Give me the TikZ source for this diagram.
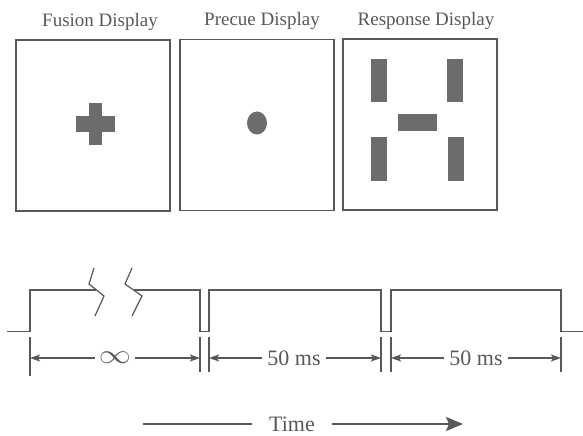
\documentclass[tikz,border=0pt]{standalone}
\usepackage{fontspec}
\setmainfont{Liberation Serif}
\usepackage{tikz}
\usetikzlibrary{arrows.meta}
\definecolor{pdfcolor1}{RGB}{88,88,88}
\definecolor{pdfcolor2}{RGB}{108,108,108}
\tikzset{
  display/.style={draw=pdfcolor1,line width=1.2bp,minimum width=154bp,minimum height=171bp},
  shade/.style={fill=pdfcolor2},
  wave/.style={draw=pdfcolor1,line width=1.2bp},
  tick/.style={draw=pdfcolor1,line width=1.1bp},
  dim/.style={draw=pdfcolor1,line width=1.1bp,-{Stealth[length=10bp,width=7bp,inset=2bp]}},
  timeline/.style={draw=pdfcolor1,line width=1.4bp},
  title/.style={anchor=base,text=pdfcolor1,font=\fontsize{19bp}{23bp}\selectfont},
  span/.style={text=pdfcolor1,inner xsep=5bp,font=\fontsize{22bp}{26bp}\selectfont}
}

\begin{document}
\begin{tikzpicture}[x=1bp,y=-1bp,inner sep=0pt,outer sep=0pt]
  \useasboundingbox (0,0) rectangle (583,436);
  % the three displays
  \node[display] (fusion) at (93,125.5) {};
  \node[display] (precue) at (257,125) {};
  \node[display] (response) at (420,124.5) {};
  \node[title] (fusiontitle) at (100,27) {Fusion Display};
  \node[title] (precuetitle) at (262,26) {Precue Display};
  \node[title] (responsetitle) at (426,26) {Response Display};
  % fusion cross
  \fill[shade] (76,116) rectangle (115,132);
  \fill[shade] (89,103) rectangle (102,145);
  % precue dot
  \fill[shade] (257,123) ellipse (10 and 11.5);
  % response bars
  \fill[shade] (371,59) rectangle (387,102);
  \fill[shade] (447,59) rectangle (463,102);
  \fill[shade] (398,114) rectangle (437,131);
  \fill[shade] (371,137) rectangle (387,181);
  \fill[shade] (448,137) rectangle (464,181);
  % timing
  \draw[wave] (7,331.5) -- (30,331.5) -- (30,290) -- (96,290);
  \draw[wave] (94,268) -- (89,284) -- (104,296) -- (95,316);
  \draw[wave] (132,268) -- (125,284) -- (142,296) -- (132,316);
  \draw[wave] (134,290) -- (200,290) -- (200,331.5) -- (209,331.5) -- (209,290)
    -- (381,290) -- (381,331.5) -- (391,331.5) -- (391,290) -- (561,290)
    -- (561,331.5) -- (583,331.5);
  \draw[tick] (30,337) -- (30,376);
  \draw[tick] (200,337) -- (200,372);
  \draw[tick] (209,337) -- (209,372);
  \draw[tick] (381,337) -- (381,372);
  \draw[tick] (391,337) -- (391,372);
  \draw[tick] (561,337) -- (561,372);
  \coordinate (fusionstart) at (30,358);
  \coordinate (fusionend) at (200,358);
  \coordinate (precuestart) at (209,358);
  \coordinate (precueend) at (381,358);
  \coordinate (responsestart) at (391,358);
  \coordinate (responseend) at (561,358);
  \node[span,inner xsep=4bp] (fusionspan) at (115,358) {\scalebox{1.55}[1.3]{$\infty$}};
  \node[span] (precuespan) at (294,358) {50 ms};
  \node[span] (responsespan) at (476,358) {50 ms};
  \draw[dim] (fusionspan) -- (fusionstart);
  \draw[dim] (fusionspan) -- (fusionend);
  \draw[dim] (precuespan) -- (precuestart);
  \draw[dim] (precuespan) -- (precueend);
  \draw[dim] (responsespan) -- (responsestart);
  \draw[dim] (responsespan) -- (responseend);
  % time axis
  \node[span,inner xsep=17bp] (time) at (292,424) {Time};
  \coordinate (timestart) at (143,424);
  \coordinate (timeend) at (463,424);
  \draw[timeline] (time) -- (timestart);
  \draw[timeline,-{Stealth[length=17bp,width=14bp,inset=3bp]}] (time) -- (timeend);
\end{tikzpicture}
\end{document}
